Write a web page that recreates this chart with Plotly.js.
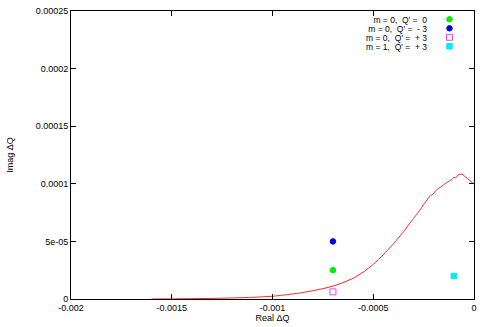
<!DOCTYPE html>
<html><head><meta charset="utf-8">
<script src="https://cdn.plot.ly/plotly-3.0.1.min.js"></script>
<style>body{margin:0;padding:0;background:#fff}#chart{width:491px;height:327px}</style>
</head><body><div id="chart"></div>
<script>
// Red curve (growth rate vs real tune shift)
var curveX = [-0.0016,-0.0015,-0.0014,-0.0013,-0.0012,-0.0011,-0.001,-0.00095,-0.0009,-0.00085,-0.0008,-0.00075,-0.0007,-0.00065,-0.0006,-0.00055,-0.0005,-0.00045,-0.0004,-0.00035,-0.0003,-0.00028,-0.00026,-0.00025,-0.00023,-0.00022,-0.0002,-0.00019,-0.00018,-0.00016,-0.00015,-0.00014,-0.00013,-0.00012,-0.00011,-0.0001,-0.00009,-0.00008,-0.00007,-0.00006,-0.00005,-0.00004,-0.00003,-0.00002,-0.00001,0];
var curveY = [0,0.1e-6,0.3e-6,0.5e-6,0.9e-6,1.45e-6,2.4e-6,3.3e-6,4.4e-6,5.6e-6,7.2e-6,9.0e-6,1.12e-5,1.42e-5,1.80e-5,2.33e-5,3.0e-5,3.85e-5,4.79e-5,5.84e-5,7.0e-5,7.45e-5,7.92e-5,8.2e-5,8.67e-5,8.91e-5,9.16e-5,9.4e-5,9.54e-5,9.79e-5,9.93e-5,1.005e-4,1.017e-4,1.027e-4,1.037e-4,1.056e-4,1.051e-4,1.076e-4,1.08e-4,1.085e-4,1.071e-4,1.056e-4,1.042e-4,1.027e-4,1.013e-4,0.998e-4];

// Point series
var labels = ["m\u00a0=\u00a00,\u00a0\u00a0Q'\u00a0=\u00a0\u00a00", "m\u00a0=\u00a00,\u00a0\u00a0Q'\u00a0=\u00a0\u00a0-\u00a03", "m\u00a0=\u00a00,\u00a0\u00a0Q'\u00a0=\u00a0\u00a0+\u00a03", "m\u00a0=\u00a01,\u00a0\u00a0Q'\u00a0=\u00a0\u00a0+\u00a03"];
var ptX = [-0.0007, -0.0007, -0.0007, -0.0001];
var ptY = [2.5e-5, 5.0e-5, 6.2e-6, 2.0e-5];

var xTickVals = [-0.002,-0.0015,-0.001,-0.0005,0];
var xTickText = ["-0.002","-0.0015","-0.001","-0.0005","0"];
var yTickVals = [0,5e-5,1e-4,1.5e-4,2e-4,2.5e-4];
var yTickText = ["0","5e-05","0.0001","0.00015","0.0002","0.00025"];

var styles = [
  {symbol:'circle', color:'#00ee00', size:5.5},
  {symbol:'circle', color:'#0000e0', size:5.5},
  {symbol:'square-open', color:'#ee44ee', size:6},
  {symbol:'square', color:'#00eeee', size:5.5}
];

var traces = [{
  x: curveX, y: curveY, mode:'lines', line:{color:'#ff2020', width:1, shape:'spline', smoothing:0.5},
  showlegend:false, hoverinfo:'skip'
}];
for (var i=0;i<labels.length;i++){
  traces.push({x:[ptX[i]], y:[ptY[i]], mode:'markers', name:labels[i],
    marker:{symbol:styles[i].symbol, color:styles[i].color, size:styles[i].size, line:{width:1,color:styles[i].color}}});
}

var font = {family:'Liberation Sans, Arial, sans-serif', size:9, color:'#000'};
var axisBase = {showgrid:false, zeroline:false, showline:true, linecolor:'#000', linewidth:1,
  mirror:'allticks', ticks:'inside', ticklen:5, tickcolor:'#000', tickfont:font, tickmode:'array'};

var layout = {
  width:491, height:327,
  margin:{l:71, r:17, t:11, b:28},
  paper_bgcolor:'#fff', plot_bgcolor:'#fff',
  font:font,
  xaxis: Object.assign({}, axisBase, {range:[-0.002,0], tickvals:xTickVals, ticktext:xTickText,
     title:{text:'Real \u0394Q', font:font, standoff:2}}),
  yaxis: Object.assign({}, axisBase, {range:[0,0.00025], tickvals:yTickVals, ticktext:yTickText,
     title:{text:'Imag \u0394Q', font:font, standoff:20}}),
  legend:{x:0.71, y:0.985, xanchor:'left', yanchor:'top', bgcolor:'rgba(0,0,0,0)', borderwidth:0,
     font:{family:'Liberation Sans, Arial, sans-serif', size:8.5, color:'#000'}, tracegroupgap:0},
  showlegend:true
};
Plotly.newPlot('chart', traces, layout, {staticPlot:true, displayModeBar:false}).then(function(gd){
  // gnuplot-style key: compact rows, right-aligned text, symbol on the right
  var leg = gd.querySelector('g.legend');
  if (!leg) return;
  leg.setAttribute('transform','translate(0,0)');
  var bg = leg.querySelector('rect.bg'); if (bg) bg.style.display='none';
  var sb = leg.querySelector('.scrollbox');
  if (sb){ sb.setAttribute('transform',''); sb.removeAttribute('clip-path'); }
  var items = leg.querySelectorAll('g.traces');
  for (var k=0;k<items.length;k++){
    items[k].setAttribute('transform','translate(0,'+(19.3+9*k)+')');
    var t = items[k].querySelector('text.legendtext');
    if (t){ t.setAttribute('x', 427); t.style.textAnchor='end';
      var ts = t.querySelectorAll('tspan'); for (var j=0;j<ts.length;j++){ if (ts[j].hasAttribute('x')) ts[j].setAttribute('x',427); } }
    var ly = items[k].querySelector('g.layers');
    if (ly) ly.setAttribute('transform','translate(429.5,0)');
  }
});
</script></body></html>
